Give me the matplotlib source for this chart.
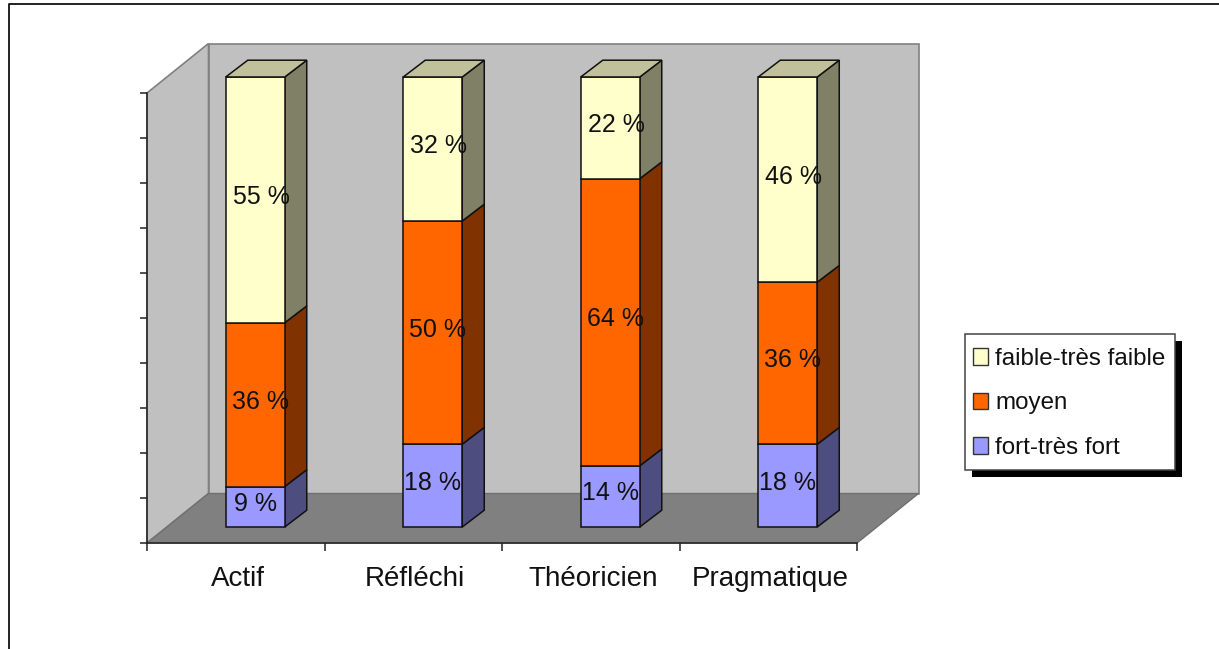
import matplotlib
matplotlib.use("Agg")
import matplotlib.pyplot as plt
from matplotlib.patches import Patch, Polygon, Rectangle
from matplotlib.lines import Line2D

plt.rcParams['font.family'] = ['Liberation Sans', 'DejaVu Sans']

categories = ["Actif", "Réfléchi", "Théoricien", "Pragmatique"]
series_names = ["fort-très fort", "moyen", "faible-très faible"]
fort = [9, 18.4, 13.6, 18.4]
moyen = [36.4, 49.6, 63.8, 36]
faible = [54.6, 32, 22.6, 45.6]
fort_labels = ["9 %", "18 %", "14 %", "18 %"]
moyen_labels = ["36 %", "50 %", "64 %", "36 %"]
faible_labels = ["55 %", "32 %", "22 %", "46 %"]
series_values = [fort, moyen, faible]
series_labels = [fort_labels, moyen_labels, faible_labels]

face_colors = ["#9999ff", "#ff6600", "#ffffcc"]
side_colors = ["#4d4d80", "#803300", "#808066"]
label_shift_px = [0, 5, 6]
top_color = "#c0c09a"

W, H = 1219, 649
fig = plt.figure(figsize=(W / 100, H / 100), dpi=100, facecolor="white")
AX_L, AX_R, AX_T, AX_B = 147, 857, 93, 543
ax = fig.add_axes([AX_L / W, 1 - AX_B / H, (AX_R - AX_L) / W, (AX_B - AX_T) / H])
ax.set_xlim(0, 4)
ax.set_ylim(0, 100)
ax.patch.set_visible(False)

px_x = 4 / (AX_R - AX_L)
px_y = 100 / (AX_B - AX_T)
wall_dx, wall_dy = 61.5 * px_x, 49.5 * px_y
bar_dx, bar_dy = 19.5 * px_x, 16 * px_y
depth_dx, depth_dy = 22 * px_x, 16.8 * px_y
bar_w = 59 * px_x

# walls and floor
wall_kw = dict(clip_on=False, zorder=1, edgecolor="#808080", linewidth=1.2)
ax.add_patch(Polygon([(0, 0), (wall_dx, wall_dy), (wall_dx, 100 + wall_dy), (0, 100)],
                     facecolor="#c0c0c0", **wall_kw))
ax.add_patch(Polygon([(wall_dx, wall_dy), (4 + wall_dx, wall_dy), (4 + wall_dx, 100 + wall_dy),
                      (wall_dx, 100 + wall_dy)], facecolor="#c0c0c0", **wall_kw))
ax.add_patch(Polygon([(0, 0), (4, 0), (4 + wall_dx, wall_dy), (wall_dx, wall_dy)],
                     facecolor="#808080", clip_on=False, zorder=1.5,
                     edgecolor="#707070", linewidth=1.0))

# bars
x_pos = [i + 0.5 for i in range(len(categories))]
edge = dict(edgecolor="#111111", linewidth=1.1, clip_on=False, zorder=3)
bottoms = [0] * len(categories)
for vals, labs, fc, sc, shift in zip(series_values, series_labels, face_colors,
                                     side_colors, label_shift_px):
    for i, (x, v, lab) in enumerate(zip(x_pos, vals, labs)):
        xl = x + bar_dx - bar_w / 2
        xr = xl + bar_w
        y0 = bottoms[i] + bar_dy
        y1 = y0 + v
        ax.add_patch(Polygon([(xr, y0), (xr + depth_dx, y0 + depth_dy),
                              (xr + depth_dx, y1 + depth_dy), (xr, y1)],
                             facecolor=sc, **edge))
        ax.bar(xl + bar_w / 2, v, bar_w, bottom=y0, color=fc, **edge)
        ax.text(xl + bar_w / 2 + shift * px_x, y0 + v / 2 + 3 * px_y, lab,
                ha="center", va="center", fontsize=18, color="#111111", zorder=5)
        bottoms[i] += v
for i, x in enumerate(x_pos):
    xl = x + bar_dx - bar_w / 2
    xr = xl + bar_w
    yt = bottoms[i] + bar_dy
    ax.add_patch(Polygon([(xl, yt), (xr, yt), (xr + depth_dx, yt + depth_dy),
                          (xl + depth_dx, yt + depth_dy)], facecolor=top_color, **edge))

# axes
for s in ["top", "right"]:
    ax.spines[s].set_visible(False)
for s in ["left", "bottom"]:
    ax.spines[s].set_linewidth(1.1)
    ax.spines[s].set_color("#222222")
    ax.spines[s].set_zorder(2)
ax.set_yticks(range(0, 101, 10))
ax.set_yticklabels([])
ax.set_xticks(range(5))
ax.set_xticklabels([])
ax.tick_params(axis="y", length=5, width=1.1, color="#222222")
ax.tick_params(axis="x", length=5.5, width=1.1, color="#222222")
for x, c in zip(x_pos, categories):
    ax.annotate(c, (x, 0), xytext=(2, -36), textcoords="offset pixels",
                ha="center", va="center", fontsize=20, color="#111111",
                annotation_clip=False)

# legend box with its hard shadow
BOX_L, BOX_T, BOX_R, BOX_B = 965, 334, 1175, 470
SHADOW = 7
fig.add_artist(Rectangle(((BOX_L + SHADOW) / W, 1 - (BOX_B + SHADOW) / H),
                         (BOX_R - BOX_L) / W, (BOX_B - BOX_T) / H,
                         transform=fig.transFigure, facecolor="black", edgecolor="black",
                         linewidth=0, zorder=5))
fig.add_artist(Rectangle((BOX_L / W, 1 - BOX_B / H),
                         (BOX_R - BOX_L) / W, (BOX_B - BOX_T) / H,
                         transform=fig.transFigure, facecolor="white", edgecolor="#444444",
                         linewidth=1.1, zorder=6))
handles = [Patch(facecolor=fc, edgecolor="#333333", linewidth=1.0)
           for fc in reversed(face_colors)]
leg = fig.legend(handles, list(reversed(series_names)),
                 loc="upper left", bbox_to_anchor=((BOX_L + 8) / W, 1 - (BOX_T + 14) / H),
                 fontsize=17.4, frameon=False,
                 handlelength=0.63, handleheight=0.65, handletextpad=0.28,
                 labelspacing=0.93, borderpad=0, borderaxespad=0,
                 labelcolor="#111111")
leg.set_zorder(7)

# outer frame, open on the right and at the bottom
fig.add_artist(Line2D([9 / W, 9 / W, 1], [0, 1 - 4 / H, 1 - 4 / H],
                      transform=fig.transFigure, color="#111111", linewidth=1.3))

fig.savefig("out.png", dpi=100, facecolor="white")
